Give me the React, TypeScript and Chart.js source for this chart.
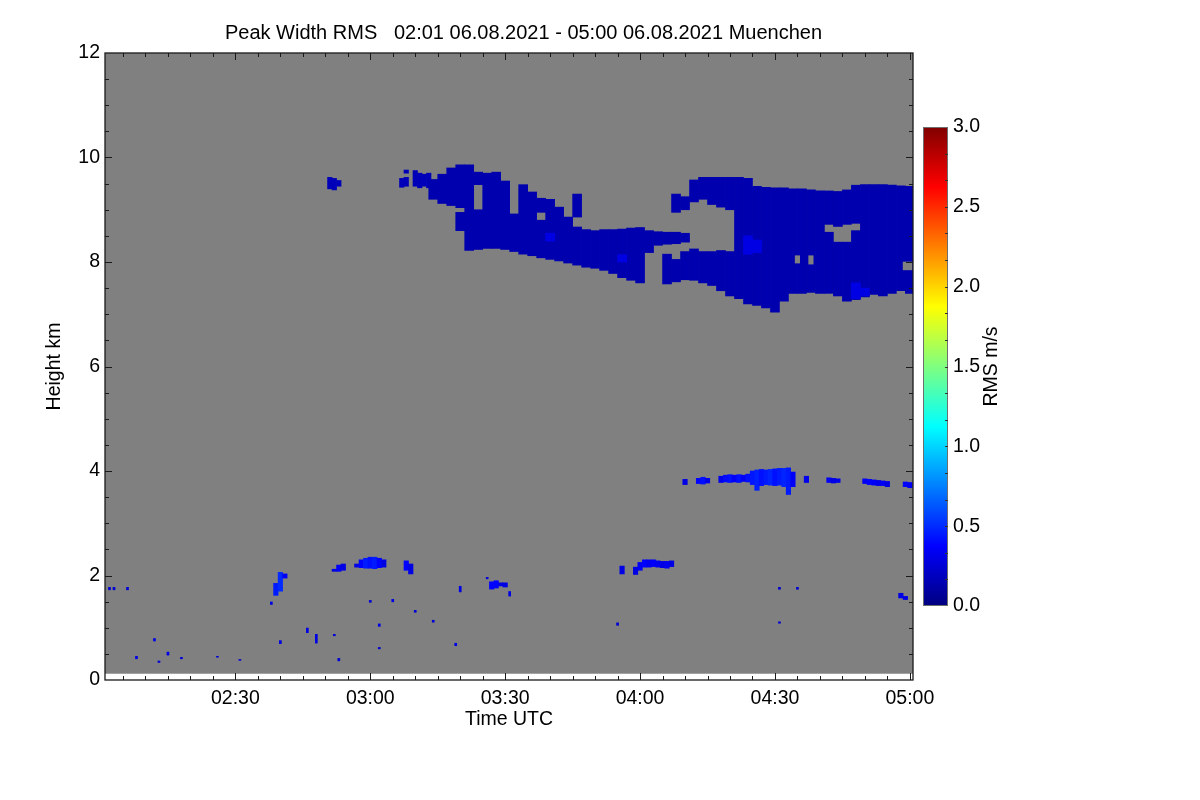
import { useEffect, useRef } from 'react';
import { Chart, registerables } from 'chart.js';

Chart.register(...registerables);

const FONT_FAMILY = "'Liberation Sans', Arial, Helvetica, sans-serif";

// ---------- texts ----------
const TITLE = 'Peak Width RMS   02:01 06.08.2021 - 05:00 06.08.2021 Muenchen';
const X_TITLE = 'Time UTC';
const Y_TITLE = 'Height km';
const CB_TITLE = 'RMS m/s';

// ---------- axes (time in minutes after 02:00 UTC) ----------
const TIME_RANGE = [1, 180.7];
const X_TICKS = [30, 60, 90, 120, 150, 180];
const X_TICK_LABELS = ['02:30', '03:00', '03:30', '04:00', '04:30', '05:00'];
const X_MINOR_STEP = 5;
const HEIGHT_RANGE = [0, 12];
const Y_TICKS = [0, 2, 4, 6, 8, 10, 12];
const Y_TICK_LABELS = ['0', '2', '4', '6', '8', '10', '12'];
const Y_MINOR_STEP = 0.5;
const MEASURED_RANGE_KM = [0.12, 12]; // grey = measured, no signal

// ---------- colour bar ----------
const RMS_RANGE = [0, 3];
const CB_TICKS = [0, 0.5, 1, 1.5, 2, 2.5, 3];
const CB_TICK_LABELS = ['0.0', '0.5', '1.0', '1.5', '2.0', '2.5', '3.0'];
const CB_STOPS = [0, 0.375, 1.125, 1.875, 2.625, 3];
const CB_MINOR_STEP = 0.5 / 3;

// ---------- data ----------
const FINE_BIN = 1; // minutes
const COARSE_BIN = 2; // minutes
const SPECK_FRACTION = 0.6; // isolated echoes are shorter than one bin

// Cirrus deck, 2-minute columns: [minute, base km, top km]
const CIRRUS_RMS = 0.14;
const CIRRUS_COLUMNS = [
  [74, 9.2, 9.58], [76, 9.12, 9.68], [78, 9.08, 9.8],
  [80, 9.04, 9.86], [80, 8.6, 8.95],
  [82, 8.22, 9.86],
  [84, 8.24, 9.0], [84, 9.48, 9.72],
  [86, 8.26, 9.7], [88, 8.26, 9.72], [90, 8.24, 9.55],
  [92, 8.2, 8.92], [94, 8.15, 9.48], [96, 8.12, 9.34],
  [98, 8.08, 8.8], [98, 8.95, 9.22], [100, 8.05, 9.2],
  [102, 8.02, 9.05], [104, 7.98, 8.86],
  [106, 7.94, 8.67], [106, 8.86, 9.3],
  [108, 7.9, 8.62], [110, 7.88, 8.6], [112, 7.84, 8.62], [114, 7.78, 8.62],
  [116, 7.7, 8.63], [118, 7.65, 8.65], [120, 7.6, 8.66],
  [122, 8.18, 8.6], [124, 8.32, 8.58],
  [126, 8.34, 8.57], [126, 7.58, 8.15],
  [128, 8.35, 8.57], [128, 7.62, 8.05], [128, 8.95, 9.3],
  [130, 8.38, 8.55], [130, 9.0, 9.25], [130, 7.66, 8.2],
  [132, 7.65, 8.25], [132, 9.15, 9.57],
  [134, 7.6, 8.2], [134, 9.2, 9.62],
  [136, 7.55, 8.2], [136, 9.1, 9.62],
  [138, 7.45, 8.22], [138, 9.05, 9.62],
  [140, 7.35, 8.2], [140, 9.0, 9.62],
  [142, 7.3, 9.62], [144, 7.2, 9.6], [146, 7.17, 9.45], [148, 7.12, 9.43],
  [150, 7.04, 9.42], [152, 7.25, 9.42], [154, 7.4, 9.4], [156, 7.4, 9.4],
  [158, 7.42, 9.38], [160, 7.4, 9.36],
  [162, 7.4, 8.57], [162, 8.72, 9.36],
  [164, 7.35, 8.38], [164, 8.68, 9.35],
  [166, 7.25, 8.38], [166, 8.72, 9.38],
  [168, 7.28, 8.6], [168, 8.74, 9.47],
  [170, 7.33, 9.48], [172, 7.38, 9.48], [174, 7.35, 9.48], [176, 7.4, 9.47],
  [178, 7.45, 9.46], [180, 7.4, 9.45],
];

// Brighter patches inside the deck, 2-minute columns
const CIRRUS_BRIGHT_RMS = 0.3;
const CIRRUS_BRIGHT = [
  [100, 8.4, 8.55], [116, 8.0, 8.14], [144, 8.15, 8.5], [146, 8.18, 8.42],
  [168, 7.3, 7.6], [170, 7.35, 7.5],
];

// Small cirrus fragments, 1-minute columns
const CIRRUS_FRAGMENTS = [
  [51, 9.4, 9.62], [52, 9.38, 9.6], [53, 9.45, 9.56],
  [67, 9.43, 9.6], [68, 9.45, 9.62], [68, 9.7, 9.76],
  [70, 9.45, 9.75], [71, 9.42, 9.7], [72, 9.45, 9.68], [73, 9.42, 9.7],
];

// No-signal gaps inside the deck, 1-minute columns
const DECK_GAPS = [
  [155, 7.98, 8.12], [158, 7.96, 8.12], [179, 7.85, 8.0], [180, 7.85, 8.0],
];

// Layer near 4 km, 1-minute columns: [minute, base, top, rms]
const MID_LAYER = [
  [130, 3.74, 3.84, 0.3],
  [133, 3.76, 3.86, 0.38], [134, 3.75, 3.88, 0.42], [135, 3.77, 3.86, 0.32],
  [138, 3.78, 3.9, 0.32], [139, 3.79, 3.92, 0.4], [140, 3.78, 3.93, 0.42], [141, 3.79, 3.92, 0.36],
  [142, 3.78, 3.93, 0.42], [143, 3.8, 3.92, 0.35], [144, 3.79, 3.94, 0.42],
  [145, 3.74, 4.0, 0.44], [146, 3.63, 4.02, 0.47], [147, 3.72, 4.03, 0.42], [148, 3.74, 4.02, 0.45],
  [149, 3.73, 4.03, 0.48], [150, 3.72, 4.04, 0.42], [151, 3.73, 4.05, 0.45], [152, 3.7, 4.05, 0.48],
  [153, 3.55, 4.06, 0.45], [154, 3.7, 3.98, 0.36],
  [157, 3.78, 3.9, 0.32],
  [162, 3.78, 3.87, 0.34], [163, 3.77, 3.86, 0.3], [164, 3.78, 3.85, 0.32],
  [170, 3.76, 3.85, 0.35], [171, 3.74, 3.84, 0.38], [172, 3.73, 3.83, 0.35], [173, 3.72, 3.82, 0.32],
  [174, 3.72, 3.81, 0.34], [175, 3.7, 3.8, 0.3],
  [179, 3.7, 3.79, 0.38], [180, 3.68, 3.78, 0.35],
];

// Boundary-layer echo patches, 1-minute columns: [minute, base, top, rms]
const LOW_PATCHES = [
  [39, 1.62, 1.85, 0.45], [40, 1.7, 2.06, 0.5], [41, 1.95, 2.03, 0.35],
  [52, 2.08, 2.12, 0.3], [53, 2.08, 2.2, 0.35], [54, 2.1, 2.22, 0.3],
  [57, 2.16, 2.22, 0.3], [58, 2.15, 2.3, 0.38], [59, 2.14, 2.33, 0.45], [60, 2.14, 2.35, 0.42],
  [61, 2.13, 2.35, 0.45], [62, 2.15, 2.33, 0.38], [63, 2.16, 2.3, 0.3],
  [68, 2.1, 2.28, 0.38], [69, 2.03, 2.22, 0.3],
  [87, 1.74, 1.88, 0.38], [88, 1.76, 1.9, 0.38], [89, 1.8, 1.86, 0.3], [90, 1.78, 1.86, 0.3],
  [116, 2.03, 2.18, 0.3], [119, 2.02, 2.16, 0.3], [120, 2.1, 2.25, 0.35],
  [121, 2.16, 2.3, 0.38], [122, 2.16, 2.3, 0.33], [123, 2.17, 2.3, 0.36], [124, 2.16, 2.28, 0.33],
  [125, 2.15, 2.27, 0.3], [126, 2.14, 2.27, 0.33], [127, 2.17, 2.28, 0.3],
  [178, 1.57, 1.66, 0.3], [179, 1.54, 1.6, 0.3],
];

// Isolated boundary-layer specks: [minute, base, top, rms]
const LOW_SPECKS = [
  [2, 1.72, 1.78, 0.25], [3, 1.72, 1.78, 0.25], [6, 1.72, 1.78, 0.25],
  [8, 0.4, 0.46, 0.3], [12, 0.74, 0.8, 0.3], [13, 0.33, 0.37, 0.25], [15, 0.47, 0.54, 0.3],
  [18, 0.4, 0.44, 0.25], [26, 0.43, 0.46, 0.25], [31, 0.37, 0.4, 0.25],
  [38, 1.44, 1.5, 0.3], [40, 0.69, 0.76, 0.3],
  [46, 0.9, 1.0, 0.3], [48, 0.7, 0.88, 0.3], [52, 0.84, 0.88, 0.25], [53, 0.36, 0.42, 0.25],
  [60, 1.48, 1.53, 0.25], [62, 1.02, 1.08, 0.3], [62, 0.59, 0.63, 0.25], [65, 1.49, 1.55, 0.3],
  [70, 1.29, 1.34, 0.25], [74, 1.1, 1.15, 0.25],
  [79, 0.65, 0.71, 0.3], [80, 1.68, 1.8, 0.3], [86, 1.93, 1.97, 0.25], [91, 1.6, 1.7, 0.3],
  [115, 1.04, 1.1, 0.25],
  [151, 1.73, 1.78, 0.25], [151, 1.08, 1.12, 0.25], [155, 1.73, 1.78, 0.25],
];

// ---------- styling ----------
const NO_SIGNAL_GRAY = '#808080';
const TEXT_COLOR = '#000000';
const FRAME_COLOR = '#1a1a1a';

function jet(v: number): string {
  const f = Math.min(1, Math.max(0, (v - RMS_RANGE[0]) / (RMS_RANGE[1] - RMS_RANGE[0])));
  const c = (k: number) => Math.round(255 * Math.min(1, Math.max(0, 1.5 - Math.abs(4 * f - k))));
  return `rgb(${c(3)},${c(2)},${c(1)})`;
}

type Row = number[];
const toBars = (rows: Row[], rms?: number) =>
  rows.map((r) => ({ x: r[0], y: [r[1], r[2]], v: rms !== undefined ? rms : r[3] }));

const barCommon = {
  xAxisID: 'x',
  yAxisID: 'y',
  grouped: false,
  categoryPercentage: 1,
  borderWidth: 0,
  inflateAmount: 0.33,
  clip: 0,
};

const mainPlugin = {
  id: 'radarFrame',
  beforeDatasetsDraw(chart: any) {
    const { ctx, chartArea: a, scales } = chart;
    const x = scales.x;
    const y = scales.y;
    ctx.save();
    ctx.beginPath();
    ctx.rect(a.left, a.top, a.width, a.height);
    ctx.clip();
    const x0 = x.getPixelForValue(TIME_RANGE[0]);
    const x1 = x.getPixelForValue(TIME_RANGE[1]);
    const y0 = y.getPixelForValue(MEASURED_RANGE_KM[0]);
    const y1 = y.getPixelForValue(MEASURED_RANGE_KM[1]);
    ctx.fillStyle = NO_SIGNAL_GRAY;
    ctx.fillRect(x0, y1, x1 - x0, y0 - y1);
    ctx.restore();
  },
  afterDraw(chart: any) {
    const { ctx, chartArea: a, scales } = chart;
    const x = scales.x;
    const y = scales.y;
    ctx.save();
    ctx.strokeStyle = FRAME_COLOR;
    ctx.lineWidth = 1;
    ctx.beginPath();
    for (let m = X_MINOR_STEP; m <= TIME_RANGE[1]; m += X_MINOR_STEP) {
      const px = Math.round(x.getPixelForValue(m)) + 0.5;
      const len = X_TICKS.includes(m) ? 7 : 4;
      ctx.moveTo(px, a.bottom);
      ctx.lineTo(px, a.bottom - len);
      ctx.moveTo(px, a.top);
      ctx.lineTo(px, a.top + len);
    }
    for (let v = HEIGHT_RANGE[0] + Y_MINOR_STEP; v < HEIGHT_RANGE[1]; v += Y_MINOR_STEP) {
      const py = Math.round(y.getPixelForValue(v)) + 0.5;
      const len = Y_TICKS.includes(v) ? 7 : 4;
      ctx.moveTo(a.left, py);
      ctx.lineTo(a.left + len, py);
      ctx.moveTo(a.right, py);
      ctx.lineTo(a.right - len, py);
    }
    ctx.stroke();
    ctx.lineWidth = 1.3;
    ctx.strokeRect(a.left, a.top, a.width, a.height);
    ctx.restore();
  },
};

const colorbarPlugin = {
  id: 'colorbarDecor',
  afterDraw(chart: any) {
    const { ctx, chartArea: a, scales } = chart;
    const y = scales.y;
    ctx.save();
    ctx.strokeStyle = '#6e6e6e';
    ctx.lineWidth = 1;
    ctx.strokeRect(a.left + 0.5, a.top + 0.5, a.width - 1, a.height - 1);
    ctx.strokeStyle = '#333333';
    ctx.beginPath();
    for (let v = RMS_RANGE[0] + CB_MINOR_STEP; v < RMS_RANGE[1] - 1e-6; v += CB_MINOR_STEP) {
      const py = Math.round(y.getPixelForValue(v)) + 0.5;
      ctx.moveTo(a.right, py);
      ctx.lineTo(a.right - 3, py);
    }
    ctx.stroke();
    ctx.translate(y.left + 44, (a.top + a.bottom) / 2);
    ctx.rotate(-Math.PI / 2);
    ctx.fillStyle = TEXT_COLOR;
    ctx.font = `19.5px ${FONT_FAMILY}`;
    ctx.textAlign = 'center';
    ctx.textBaseline = 'middle';
    ctx.fillText(CB_TITLE, 0, 0);
    ctx.restore();
  },
};

export default function App() {
  const mainRef = useRef<HTMLCanvasElement>(null);
  const cbRef = useRef<HTMLCanvasElement>(null);

  useEffect(() => {
    const tickFont = { family: FONT_FAMILY, size: 19.5 };

    const main = new Chart(mainRef.current as HTMLCanvasElement, {
      type: 'bar',
      data: {
        datasets: [
          {
            ...barCommon,
            label: 'gaps',
            order: 0,
            data: toBars(DECK_GAPS, 0),
            backgroundColor: NO_SIGNAL_GRAY,
            barPercentage: FINE_BIN / FINE_BIN,
          },
          {
            ...barCommon,
            label: 'cirrus bright',
            order: 1,
            data: toBars(CIRRUS_BRIGHT, CIRRUS_BRIGHT_RMS),
            backgroundColor: jet(CIRRUS_BRIGHT_RMS),
            barPercentage: COARSE_BIN / FINE_BIN,
          },
          {
            ...barCommon,
            label: 'cirrus',
            order: 2,
            data: toBars(CIRRUS_COLUMNS, CIRRUS_RMS),
            backgroundColor: jet(CIRRUS_RMS),
            barPercentage: COARSE_BIN / FINE_BIN,
          },
          {
            ...barCommon,
            label: 'fragments',
            order: 3,
            data: toBars(CIRRUS_FRAGMENTS, CIRRUS_RMS + 0.03),
            backgroundColor: jet(CIRRUS_RMS + 0.03),
            barPercentage: FINE_BIN / FINE_BIN,
          },
          {
            ...barCommon,
            label: 'mid layer',
            order: 3,
            data: toBars(MID_LAYER),
            backgroundColor: (c: any) => jet(c.raw ? c.raw.v : 0.4),
            barPercentage: FINE_BIN / FINE_BIN,
          },
          {
            ...barCommon,
            label: 'low patches',
            order: 3,
            data: toBars(LOW_PATCHES),
            backgroundColor: (c: any) => jet(c.raw ? c.raw.v : 0.3),
            barPercentage: FINE_BIN / FINE_BIN,
          },
          {
            ...barCommon,
            label: 'low specks',
            order: 3,
            data: toBars(LOW_SPECKS),
            backgroundColor: (c: any) => jet(c.raw ? c.raw.v : 0.3),
            barPercentage: SPECK_FRACTION,
            inflateAmount: 0,
          },
        ] as any,
      },
      options: {
        responsive: false,
        animation: false,
        events: [],
        layout: { padding: { left: 0, top: 0, right: 153, bottom: 60 } },
        plugins: {
          legend: { display: false },
          tooltip: { enabled: false },
          title: {
            display: true,
            text: TITLE,
            color: TEXT_COLOR,
            font: { family: FONT_FAMILY, size: 20, weight: 'normal' },
            padding: { top: 21, bottom: 8 },
          },
        },
        scales: {
          x: {
            type: 'linear',
            min: TIME_RANGE[0],
            max: TIME_RANGE[1],
            offset: false,
            grid: { display: false, drawTicks: false, offset: false },
            border: { display: false },
            afterBuildTicks: (s: any) => {
              s.ticks = X_TICKS.map((value) => ({ value }));
            },
            afterFit: (s: any) => {
              s.height = 60;
            },
            ticks: {
              callback: (_v: any, i: number) => X_TICK_LABELS[i],
              padding: 7,
              maxRotation: 0,
              autoSkip: false,
              color: TEXT_COLOR,
              font: tickFont,
            },
            title: {
              display: true,
              text: X_TITLE,
              color: TEXT_COLOR,
              font: tickFont,
              padding: { top: 0, bottom: 8.3 },
            },
          },
          y: {
            type: 'linear',
            min: HEIGHT_RANGE[0],
            max: HEIGHT_RANGE[1],
            grid: { display: false, drawTicks: false },
            border: { display: false },
            afterBuildTicks: (s: any) => {
              s.ticks = Y_TICKS.map((value) => ({ value }));
            },
            afterFit: (s: any) => {
              s.width = 105;
            },
            ticks: {
              callback: (_v: any, i: number) => Y_TICK_LABELS[i],
              padding: 5,
              autoSkip: false,
              color: TEXT_COLOR,
              font: tickFont,
            },
            title: {
              display: true,
              text: Y_TITLE,
              color: TEXT_COLOR,
              font: tickFont,
              padding: { top: 43.3, bottom: 0 },
            },
          },
          cbSpace: {
            type: 'linear',
            position: 'right',
            min: HEIGHT_RANGE[0],
            max: HEIGHT_RANGE[1],
            ticks: { display: false },
            grid: { display: false, drawTicks: false },
            border: { display: false },
            afterFit: (s: any) => {
              s.width = 134;
            },
          },
        },
      } as any,
      plugins: [mainPlugin],
    });

    const cb = new Chart(cbRef.current as HTMLCanvasElement, {
      type: 'bar',
      data: {
        labels: [CB_TITLE],
        datasets: [
          {
            data: [RMS_RANGE],
            barPercentage: 1,
            categoryPercentage: 1,
            borderWidth: 0,
            inflateAmount: 0,
            backgroundColor: (c: any) => {
              const chart = c.chart;
              const ys = chart.scales && chart.scales.y;
              if (!ys || !chart.chartArea) return jet(1.5);
              const yb = ys.getPixelForValue(RMS_RANGE[0]);
              const yt = ys.getPixelForValue(RMS_RANGE[1]);
              const g = chart.ctx.createLinearGradient(0, yb, 0, yt);
              CB_STOPS.forEach((v) => {
                g.addColorStop((ys.getPixelForValue(v) - yb) / (yt - yb), jet(v));
              });
              return g;
            },
          },
        ] as any,
      },
      options: {
        responsive: false,
        animation: false,
        events: [],
        layout: { padding: { left: 923, top: 127, right: 192, bottom: 194 } },
        plugins: {
          legend: { display: false },
          tooltip: { enabled: false },
          title: { display: false },
        },
        scales: {
          x: { display: false },
          y: {
            type: 'linear',
            position: 'right',
            min: RMS_RANGE[0],
            max: RMS_RANGE[1],
            grid: { display: false, drawTicks: false },
            border: { display: false },
            afterBuildTicks: (s: any) => {
              s.ticks = CB_TICKS.map((value) => ({ value }));
            },
            afterFit: (s: any) => {
              s.width = 60;
            },
            ticks: {
              callback: (_v: any, i: number) => CB_TICK_LABELS[i],
              padding: 5,
              autoSkip: false,
              color: TEXT_COLOR,
              font: tickFont,
            },
          },
        },
      } as any,
      plugins: [colorbarPlugin],
    });

    return () => {
      main.destroy();
      cb.destroy();
    };
  }, []);

  const canvasStyle: any = { position: 'absolute', left: 0, top: 0, width: 1200, height: 800 };
  return (
    <div style={{ position: 'fixed', left: 0, top: 0, width: 1200, height: 800, background: '#ffffff' }}>
      <canvas ref={mainRef} width={1200} height={800} style={canvasStyle} />
      <canvas ref={cbRef} width={1200} height={800} style={{ ...canvasStyle, pointerEvents: 'none' }} />
    </div>
  );
}
